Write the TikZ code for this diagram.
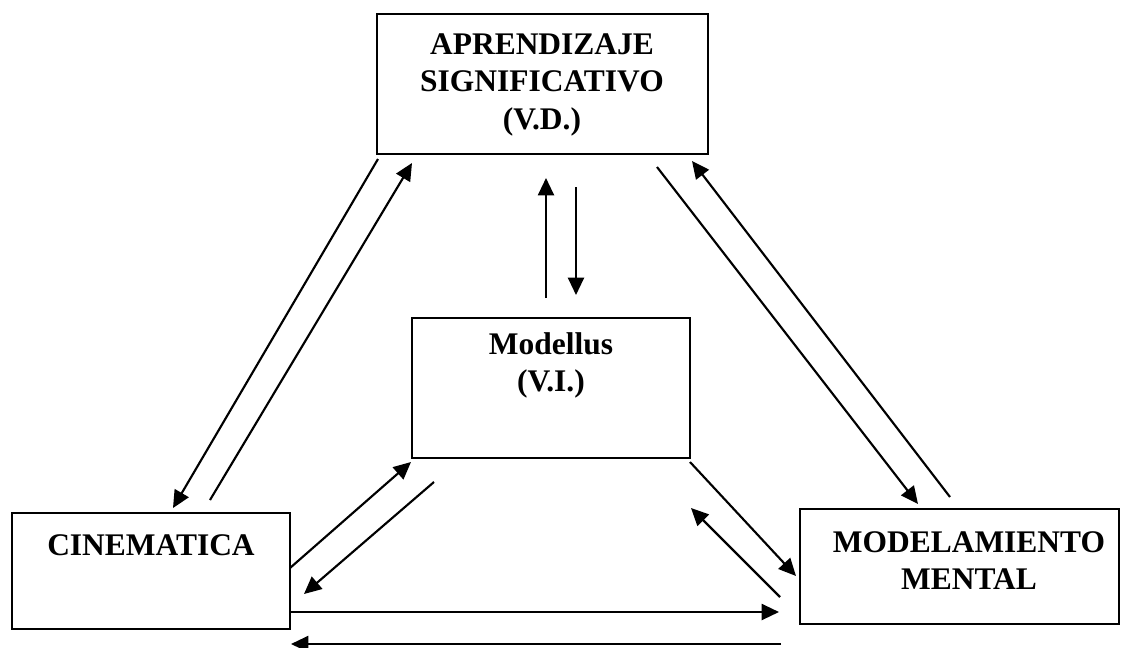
\documentclass[tikz,border=0pt]{standalone}
\usepackage{fontspec}
\setmainfont{Liberation Serif}
\usetikzlibrary{arrows.meta}
\begin{document}
\begin{tikzpicture}[x=0.75pt,y=-0.75pt,
  box/.style={draw, line width=1.5pt, rectangle, inner sep=0pt},
  lbl/.style={font=\fontsize{23.6}{28.3}\selectfont\bfseries, align=center, inner sep=0pt, anchor=north},
  conn/.style={line width=1.6pt, -{Triangle[length=13pt,width=12pt]}}]
\useasboundingbox (0,0) rectangle (1122,647);
\fill[white] (0,0) rectangle (1122,647);
% boxes
\node[box, minimum width=331*0.75pt, minimum height=140*0.75pt] (vd) at (542.5,84) {};
\node[box, minimum width=278*0.75pt, minimum height=140*0.75pt] (vi) at (551,388) {};
\node[box, minimum width=278*0.75pt, minimum height=116*0.75pt] (cin) at (151,571) {};
\node[box, minimum width=319*0.75pt, minimum height=115*0.75pt] (mm) at (959.5,566.5) {};
% labels
\node[lbl] (vdt) at (542,33) {APRENDIZAJE\\SIGNIFICATIVO\\(V.D.)};
\node[lbl] (vit) at (551,332) {Modellus\\(V.I.)};
\node[lbl] (cint) at (151,534) {CINEMATICA};
\node[lbl] (mmt) at (969,531) {MODELAMIENTO\\MENTAL};
% connector end points
\coordinate (a1) at (378,159); \coordinate (b1) at (173,508);
\coordinate (a2) at (210,500); \coordinate (b2) at (412,163);
\coordinate (a3) at (657,167); \coordinate (b3) at (918,504);
\coordinate (a4) at (950,497); \coordinate (b4) at (692,161);
\coordinate (a5) at (546,298); \coordinate (b5) at (546,178);
\coordinate (a6) at (576,187); \coordinate (b6) at (576,295);
\coordinate (a7) at (290,568); \coordinate (b7) at (411,462);
\coordinate (a8) at (434,482); \coordinate (b8) at (304,594);
\coordinate (a9) at (690,462); \coordinate (b9) at (796,576);
\coordinate (a10) at (780,597); \coordinate (b10) at (691,508);
\coordinate (a11) at (289,612); \coordinate (b11) at (779,612);
\coordinate (a12) at (781,644); \coordinate (b12) at (291,644);
% connectors
\foreach \i in {1,...,12} { \draw[conn] (a\i) -- (b\i); }
\end{tikzpicture}
\end{document}
